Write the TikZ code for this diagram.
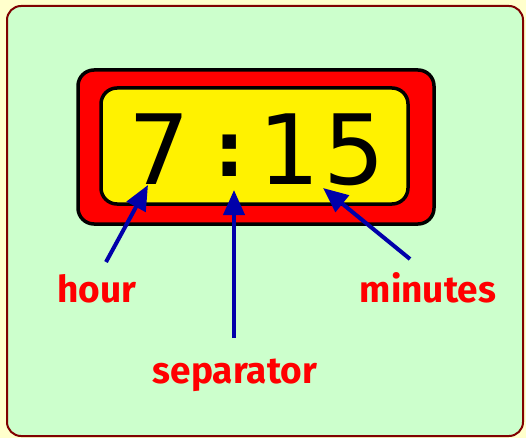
\documentclass[tikz,border=0pt]{standalone}
\usepackage{fontspec}
\newfontfamily\digitfont{DejaVu Sans}
\newfontfamily\labelfont{Fira Sans}
\usetikzlibrary{arrows.meta}
\definecolor{pageyellow}{HTML}{FFFFCC}
\definecolor{panelgreen}{HTML}{CCFFCC}
\definecolor{panelborder}{HTML}{800000}
\definecolor{arrowblue}{HTML}{0000AA}
\definecolor{labelred}{HTML}{FF0000}
\tikzset{
  panel/.style={draw=panelborder, line width=2pt, fill=panelgreen, rounded corners=14pt},
  outerbox/.style={draw=black, line width=3.5pt, fill=red, rounded corners=16pt},
  innerbox/.style={draw=black, line width=3.5pt, fill=yellow, rounded corners=16pt},
  digit/.style={inner sep=0pt, font=\digitfont\fontsize{97}{97}\selectfont, text=black},
  lbl/.style={inner sep=0pt, font=\labelfont\bfseries\fontsize{37}{37}\selectfont, text=labelred},
  arr/.style={draw=arrowblue, line width=4pt, -{Triangle[length=25pt,width=21pt]}, fill=arrowblue},
}
\begin{document}
\begin{tikzpicture}[x=1pt,y=-1pt]
  \useasboundingbox[fill=pageyellow] (0,0) rectangle (526,438);
  \draw[panel] (7,6) rectangle (523,436);
  \draw[outerbox] (78,70) rectangle (434,224);
  \draw[innerbox] (101,88) rectangle (408,204);
  \node[digit, anchor=base] (seven) at (159,185) {7};
  \node[inner sep=0pt, font=\digitfont\bfseries\fontsize{76}{76}\selectfont, anchor=base] (colon) at (230,177) {:};
  \node[digit, anchor=base] (fifteen) at (322,185) {1\kern4pt5};
  \node[lbl, anchor=base] (hour) at (97,302) {hour};
  \node[lbl, anchor=base] (minutes) at (428,302) {minutes};
  \node[lbl, anchor=base] (separator) at (235,383) {separator};
  \coordinate (hourtail) at (106,262);
  \coordinate (hourtip) at (148,185);
  \coordinate (septail) at (234,338);
  \coordinate (septip) at (234,190);
  \coordinate (mintail) at (410,259);
  \coordinate (mintip) at (323,188);
  \draw[arr] (hourtail) -- (hourtip);
  \draw[arr] (septail) -- (septip);
  \draw[arr] (mintail) -- (mintip);
\end{tikzpicture}
\end{document}
